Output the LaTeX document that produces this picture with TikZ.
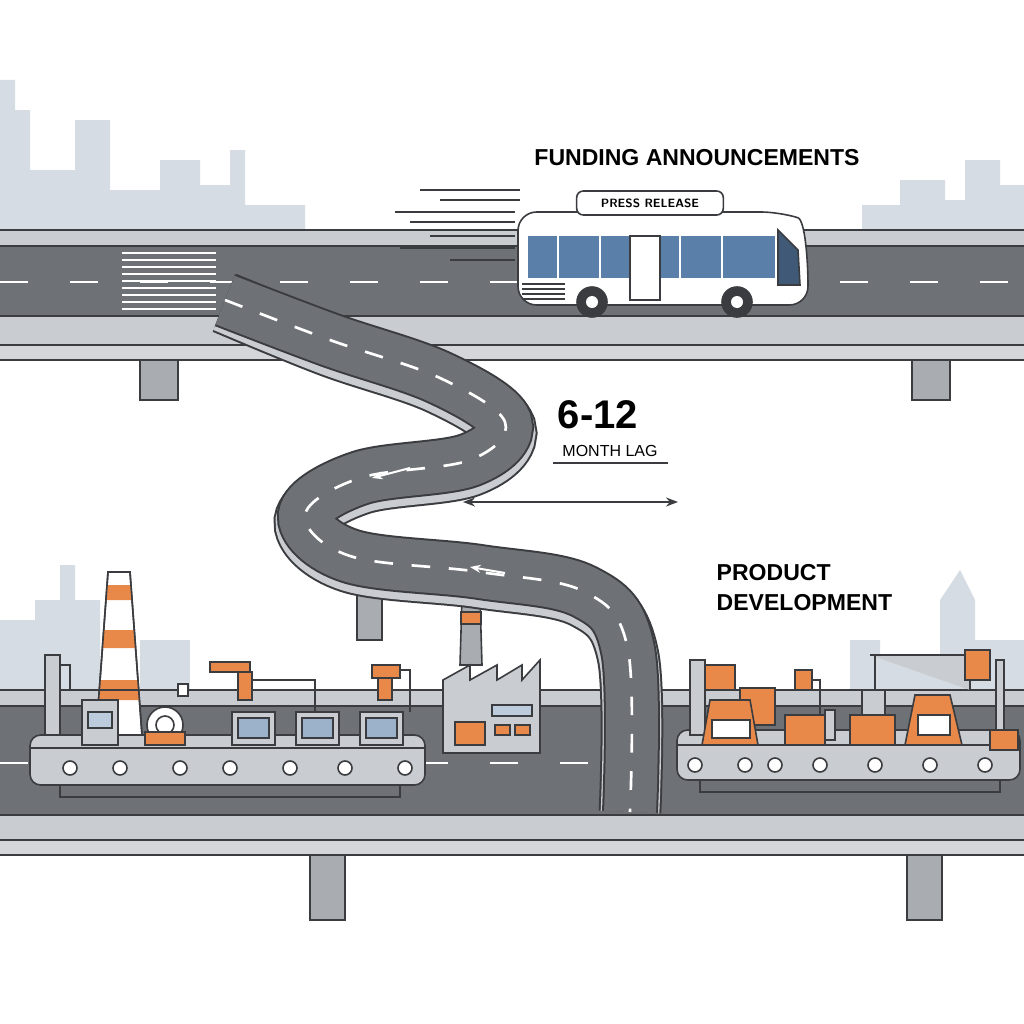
\documentclass[tikz,border=0pt]{standalone}
\usepackage{fontspec}
\setmainfont{Liberation Sans}
\usetikzlibrary{arrows.meta}
\definecolor{road}{HTML}{6E7175}
\definecolor{rail}{HTML}{C9CCD0}
\definecolor{ol}{HTML}{3A3C40}
\definecolor{org}{HTML}{E8894A}
\definecolor{win}{HTML}{5A7FA8}
\definecolor{sky}{HTML}{D6DCE4}
\definecolor{pil}{HTML}{A9ADB2}
\tikzset{
 ln/.style={draw=ol,line width=1.2pt},
 pillar/.style={ln,fill=pil},
 cdash/.style={white,line width=2pt,dash pattern=on 14 off 14},
 lbl/.style={text=black},
 belt/.style={ln,fill=rail,rounded corners=8},
 roll/.style={ln,fill=white},
 mach/.style={ln,fill=rail},
 om/.style={ln,fill=org},
}
\begin{document}
\begin{tikzpicture}[x=0.75pt,y=-0.75pt]
\useasboundingbox (0,0) rectangle (1024,1024);
\fill[white] (0,0) rectangle (1024,1024);
% skylines
\fill[sky] (0,80) -- (15,80) -- (15,110) -- (30,110) -- (30,170) -- (75,170) -- (75,120) -- (110,120) -- (110,190) -- (160,190) -- (160,160) -- (200,160) -- (200,185) -- (230,185) -- (230,150) -- (245,150) -- (245,205) -- (305,205) -- (305,230) -- (0,230) -- cycle;
\fill[sky] (862,230) -- (862,205) -- (900,205) -- (900,180) -- (945,180) -- (945,200) -- (965,200) -- (965,160) -- (1000,160) -- (1000,185) -- (1024,185) -- (1024,230) -- cycle;
\fill[sky] (0,690) -- (0,620) -- (35,620) -- (35,600) -- (60,600) -- (60,565) -- (75,565) -- (75,600) -- (100,600) -- (100,690) -- cycle;
\fill[sky] (140,690) -- (140,640) -- (190,640) -- (190,690) -- cycle;
\fill[sky] (850,690) -- (850,640) -- (880,640) -- (880,655) -- (940,655) -- (940,600) -- (960,570) -- (975,600) -- (975,640) -- (1024,640) -- (1024,690) -- cycle;
% upper highway
\draw[ln,fill=rail] (-5,230) rectangle (1030,246);
\draw[ln,fill=road] (-5,246) rectangle (1030,316);
\foreach \x in {0,70,...,1000} \draw[white,line width=2pt] (\x,282) -- (\x+28,282);
\foreach \y in {253,260,...,309} \draw[white,line width=1.2pt] (122,\y) -- (216,\y);
\draw[ln,fill=rail] (-5,316) rectangle (1030,345);
\draw[ln,fill=rail!80] (-5,345) rectangle (1030,360);
\draw[pillar] (140,360) rectangle (178,400);
\draw[pillar] (912,360) rectangle (950,400);
% lower highway
\draw[ln,fill=rail] (-5,690) rectangle (1030,706);
\draw[ln,fill=road] (-5,706) rectangle (1030,815);
\foreach \x in {0,70,...,1000} \draw[white,line width=2pt] (\x,763) -- (\x+28,763);
\draw[ln,fill=rail] (-5,815) rectangle (1030,840);
\draw[ln,fill=rail!80] (-5,840) rectangle (1030,855);
\draw[pillar] (310,855) rectangle (345,920);
\draw[pillar] (907,855) rectangle (942,920);
% pillar under winding road, factory chimney
\draw[pillar] (357,585) rectangle (382,640);
\draw[ln,fill=pil] (462,598) -- (480,598) -- (482,665) -- (460,665) -- cycle;
\draw[ln,fill=org] (461,612) rectangle (481,624);
% winding road
\def\wr{(225,300)(330,340)(440,378)(505,422)(470,460)(360,478)(305,515)(350,556)(480,572)(585,592)(628,650)(630,812)}
\draw[ol,line width=47pt] plot[smooth,tension=0.6] coordinates {(225,303)(330,346)(440,384)(505,428)(470,466)(360,484)(305,521)(350,562)(480,578)(585,598)(628,656)(630,812)};
\draw[rail,line width=44pt] plot[smooth,tension=0.6] coordinates {(225,303)(330,346)(440,384)(505,428)(470,466)(360,484)(305,521)(350,562)(480,578)(585,598)(628,656)(630,812)};
\draw[ol,line width=42pt] plot[smooth,tension=0.6] coordinates \wr;
\draw[road,line width=39pt] plot[smooth,tension=0.6] coordinates \wr;
\draw[cdash] plot[smooth,tension=0.6] coordinates \wr;
\draw[white,line width=1.5pt,-{Stealth[length=8pt]}] (410,468) -- (372,478);
\draw[white,line width=1.5pt,-{Stealth[length=8pt]}] (505,573) -- (470,567);
% bus speed lines
\foreach \a/\b/\y in {420/520/190,440/520/200,395/515/212,410/515/222,430/515/236,400/515/248,450/515/260} \draw[ol,line width=1pt] (\a,\y) -- (\b,\y);
% bus
\draw[ln,fill=white,rounded corners=14] (518,212) -- (780,212) .. controls (805,220) and (808,260) .. (808,305) -- (518,305) -- cycle;
\fill[win] (528,236) rectangle (775,278);
\foreach \x in {558,600,640,680,722} \draw[white,line width=2pt] (\x,236) -- (\x,278);
\draw[ln,fill=win!70!black] (778,230) -- (798,250) -- (800,285) -- (778,285) -- cycle;
\draw[ln,fill=white] (630,236) rectangle (660,300);
\foreach \y in {284,289,294,299} \draw[ol,line width=.8pt] (522,\y) -- (565,\y);
\draw[ln,fill=ol] (592,302) circle (15); \fill[white] (592,302) circle (6);
\draw[ln,fill=ol] (737,302) circle (15); \fill[white] (737,302) circle (6);
\node[draw=ol,line width=1.2pt,fill=white,rounded corners=5,font=\sffamily\small\bfseries,minimum width=110pt,minimum height=18pt] (press) at (650,203) {PRESS RELEASE};
\node[lbl,font=\bfseries\LARGE] (fund) at (697,158) {FUNDING ANNOUNCEMENTS};
% lag labels
\node[lbl,font=\bfseries\fontsize{30}{32}\selectfont] (num) at (598,415) {6-12};
\node[lbl,font=\large] (lag) at (610,451) {MONTH LAG};
\draw[ol,line width=1pt] (553,463) -- (668,463);
\coordinate (la) at (463,502); \coordinate (lb) at (678,502);
\draw[ol,line width=1.2pt,{Stealth[length=9pt]}-{Stealth[length=9pt]}] (la) -- (lb);
\node[lbl,font=\bfseries\LARGE,align=left,anchor=north west] (prod) at (712,560) {PRODUCT\\DEVELOPMENT};
% factory
\draw[ln,fill=rail] (443,753) -- (443,680) -- (470,665) -- (470,680) -- (497,665) -- (497,680) -- (522,665) -- (522,680) -- (540,660) -- (540,753) -- cycle;
\draw[ln,fill=win!40] (492,705) rectangle (532,716);
\draw[ln,fill=org] (455,722) rectangle (485,745);
\draw[ln,fill=org] (495,725) rectangle (510,735);
\draw[ln,fill=org] (515,725) rectangle (530,735);
% cone stack
\draw[ln,fill=white] (108,572) -- (130,572) -- (142,735) -- (96,735) -- cycle;
\foreach \a/\b in {585/600,630/648,680/700}
 \fill[org] ({108-12*(\a-572)/163},\a) -- ({130+12*(\a-572)/163},\a) -- ({130+12*(\b-572)/163},\b) -- ({108-12*(\b-572)/163},\b) -- cycle;
\draw[ln] (108,572) -- (130,572) -- (142,735) -- (96,735) -- cycle;
% left conveyor
\draw[belt] (30,735) rectangle (425,785);
\draw[ln] (30,748) -- (425,748);
\foreach \x in {70,120,180,230,290,345,405} \draw[roll] (\x,768) circle (7);
\draw[ln] (60,785) -- (60,797) -- (400,797) -- (400,785);
\draw[ln,fill=rail] (45,655) rectangle (60,735);
\draw[ln] (60,665) -- (70,665) -- (70,690) -- (180,690);
\draw[ln,fill=white] (178,684) rectangle (188,696);
\draw[mach] (82,700) rectangle (118,745); \draw[ln,fill=win!40] (88,712) rectangle (112,728);
\draw[ln,fill=white] (165,725) circle (18); \draw[ln] (165,725) circle (9);
\draw[om] (145,732) rectangle (185,745);
\foreach \x in {232,296,360} {
 \draw[mach] (\x,712) rectangle (\x+43,745);
 \draw[ln,fill=win!60] (\x+6,718) rectangle (\x+37,738);
}
\draw[ln,fill=org] (210,662) rectangle (250,672);
\draw[ln,fill=org] (238,672) rectangle (252,700);
\draw[ln] (252,680) -- (315,680) -- (315,712);
\draw[ln,fill=org] (372,665) rectangle (400,678);
\draw[ln] (400,670) -- (410,670) -- (410,712);
\draw[ln,fill=org] (378,678) rectangle (392,700);
% right conveyor
\draw[belt] (677,730) rectangle (1020,780);
\draw[ln] (677,745) -- (1020,745);
\foreach \x in {695,745,775,820,875,930,985} \draw[roll] (\x,765) circle (7);
\draw[ln] (700,780) -- (700,792) -- (1000,792) -- (1000,780);
\draw[ln,fill=rail] (690,660) rectangle (705,735);
\draw[om] (705,665) rectangle (735,690);
\draw[om] (740,688) rectangle (775,725);
\draw[om] (710,700) -- (750,700) -- (758,745) -- (702,745) -- cycle;
\draw[ln,fill=white] (712,720) rectangle (750,738);
\draw[ln] (800,680) -- (820,680) -- (820,715);
\draw[om] (795,670) rectangle (812,690);
\draw[om] (785,715) rectangle (825,745);
\draw[ln,fill=rail] (825,710) rectangle (835,740);
\draw[ln,fill=rail] (870,655) -- (970,655) -- (970,690);
\draw[ln] (875,655) -- (875,690);
\draw[om] (850,715) rectangle (895,745);
\draw[ln,fill=rail] (862,690) rectangle (885,715);
\draw[om] (965,650) rectangle (990,680);
\draw[om] (915,695) -- (950,695) -- (962,745) -- (905,745) -- cycle;
\draw[ln,fill=white] (918,715) rectangle (950,735);
\draw[ln,fill=rail] (996,660) rectangle (1004,735);
\draw[om] (990,730) rectangle (1018,750);
\end{tikzpicture}
\end{document}
